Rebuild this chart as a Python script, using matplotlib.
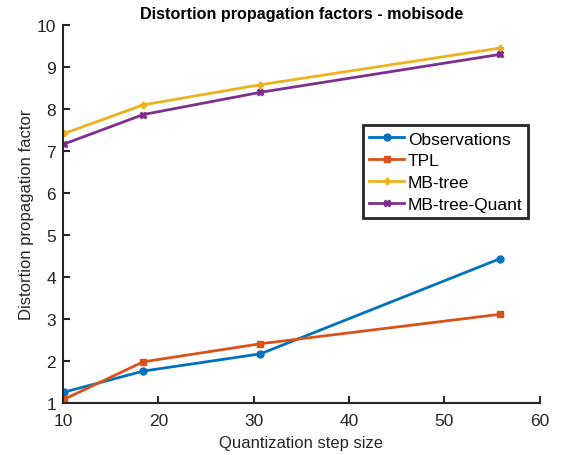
import matplotlib
matplotlib.use("Agg")
import matplotlib.pyplot as plt

plt.rcParams['font.family'] = ['Liberation Sans', 'DejaVu Sans']

# Data
step_size = [10.1, 18.4, 30.7, 55.8]
observations = [1.27, 1.77, 2.18, 4.44]
tpl = [1.10, 1.99, 2.42, 3.12]
mb_tree = [7.42, 8.10, 8.58, 9.45]
mb_tree_quant = [7.17, 7.87, 8.40, 9.30]

fig = plt.figure(figsize=(5.64, 4.56), dpi=100)
ax = fig.add_axes([0.112, 0.113, 0.845, 0.830])

ax.plot(step_size, observations, '-o', color='#0072BD', lw=2, ms=5, label='Observations')
ax.plot(step_size, tpl, '-s', color='#D95319', lw=2, ms=4.5, label='TPL')
ax.plot(step_size, mb_tree, '-P', color='#EDB120', lw=2, ms=5, label='MB-tree')
ax.plot(step_size, mb_tree_quant, '-X', color='#7E2F8E', lw=2, ms=5, label='MB-tree-Quant')

ax.set_xlim(10, 60)
ax.set_ylim(1, 10)
ax.set_xticks(range(10, 61, 10))
ax.set_yticks(range(1, 11))
ax.tick_params(direction='in', length=5, width=1.5, labelsize=12.5, colors='#262626')
ax.tick_params(axis='x', pad=7)
ax.tick_params(axis='y', pad=5)
for side in ['top', 'right']:
    ax.spines[side].set_visible(False)
for side in ['left', 'bottom']:
    ax.spines[side].set_linewidth(1.5)
    ax.spines[side].set_color('#262626')

ax.set_xlabel('Quantization step size', fontsize=12, color='#262626', labelpad=5)
ax.set_ylabel('Distortion propagation factor', fontsize=12, color='#262626', labelpad=2)
ax.set_title('Distortion propagation factors - mobisode', fontsize=11.6, fontweight='bold', pad=5)

leg = ax.legend(loc='upper left', bbox_to_anchor=(0.63, 0.735), fontsize=12.5,
                fancybox=False, framealpha=1, handlelength=2.0,
                handletextpad=0.2, borderpad=0.35, labelspacing=0.38, borderaxespad=0)
leg.get_frame().set_edgecolor('#262626')
leg.get_frame().set_linewidth(2)

fig.savefig('out.png', dpi=100)
